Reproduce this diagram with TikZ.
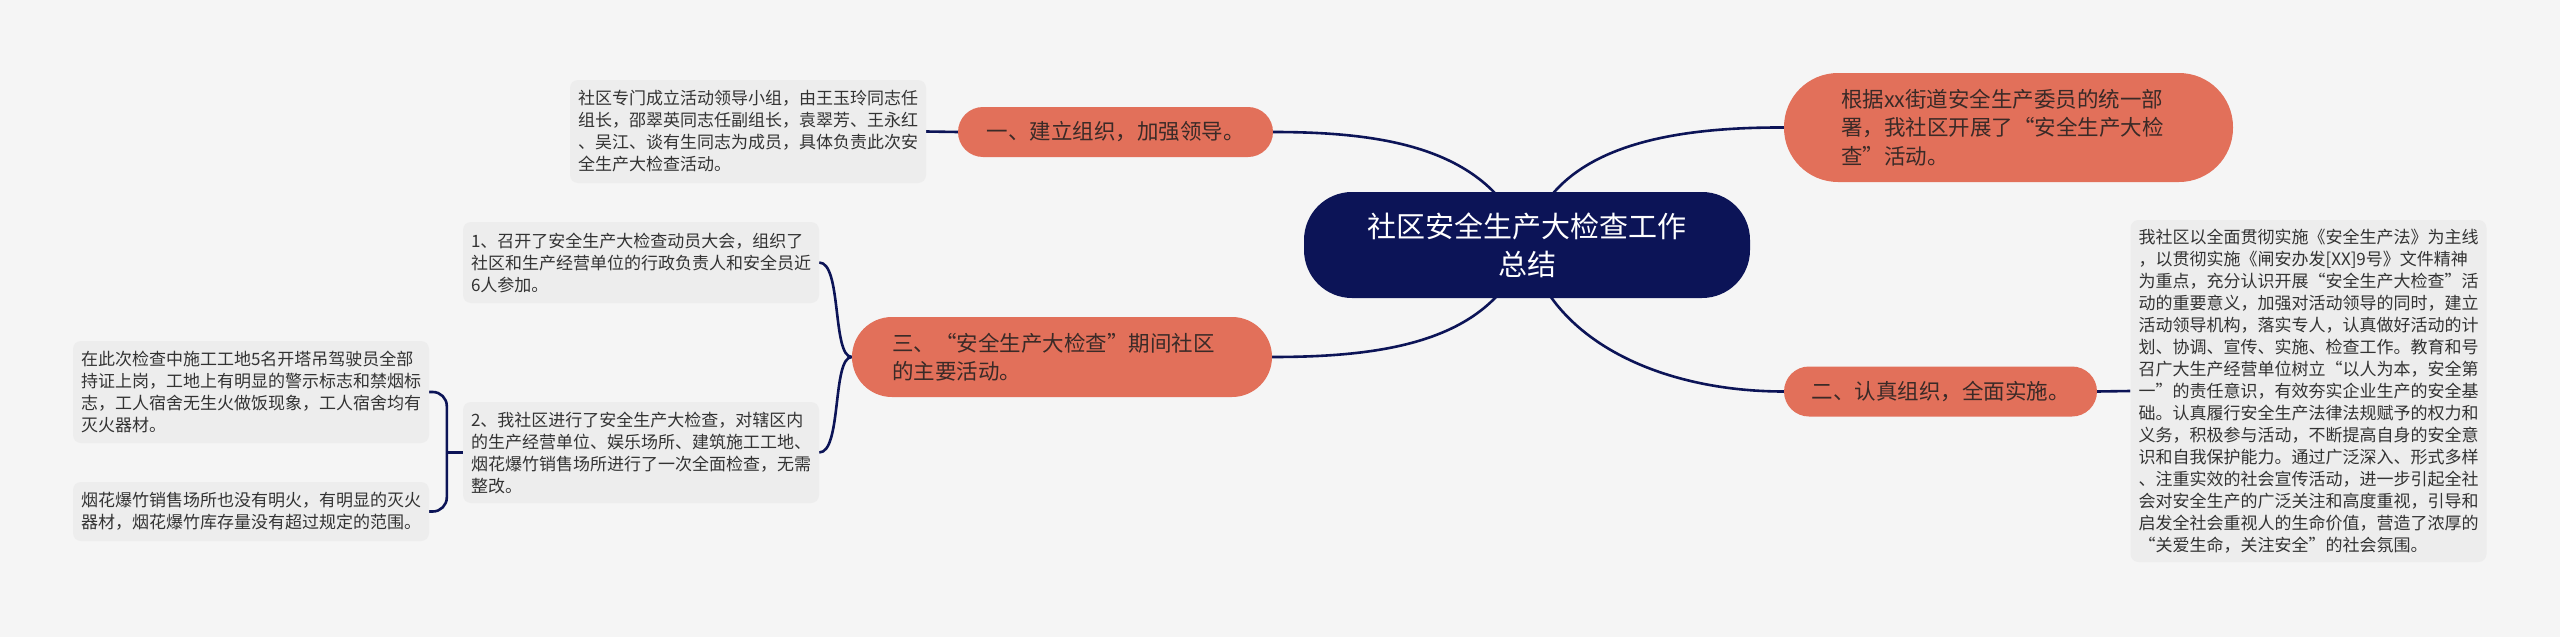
\documentclass[tikz,border=0pt]{standalone}
\usepackage{fontspec}
\setmainfont{Noto Sans CJK SC}
\usetikzlibrary{backgrounds}
\definecolor{bg}{HTML}{F5F5F5}
\definecolor{navy}{HTML}{0C1457}
\definecolor{salmon}{HTML}{E2705A}
\definecolor{boxgray}{HTML}{EDEDED}
\definecolor{salmontext}{HTML}{3A2A27}
\definecolor{graytext}{HTML}{333333}
\begin{document}
\begin{tikzpicture}[x=1pt,y=-1pt,
  conn/.style={draw=navy,line width=2.6pt},
  rootbox/.style={fill=navy,text=white,rounded corners=48pt,font=\fontsize{29}{38}\selectfont,align=center,minimum width=446pt,minimum height=106pt,inner sep=0pt},
  pill/.style={fill=salmon,text=salmontext,font=\fontsize{21.5}{28.5}\selectfont,inner sep=0pt,align=left},
  note/.style={fill=boxgray,text=graytext,rounded corners=8pt,font=\fontsize{17}{22}\selectfont,align=left,inner ysep=0pt,inner xsep=8pt,text width=340pt,minimum width=356pt}
]
\useasboundingbox (0,0) rectangle (2560,637);

\node[rootbox] (root) at (1527,245) {社区安全生产大检查工作\\总结};

\node[pill,rounded corners=25pt,minimum width=315pt,minimum height=50pt] (n1) at (1115.5,132) {一、建立组织，加强领导。};
\node[pill,rounded corners=54pt,minimum width=449pt,minimum height=109pt,text width=335pt] (n2) at (2008.5,127.5) {根据xx街道安全生产委员的统一部\\署，我社区开展了“安全生产大检\\查”活动。};
\node[pill,rounded corners=25pt,minimum width=313pt,minimum height=50pt] (n3) at (1940.5,391.5) {二、认真组织，全面实施。};
\node[pill,rounded corners=40pt,minimum width=420pt,minimum height=80pt,text width=340pt] (n5) at (1062,357) {三、“安全生产大检查”期间社区\\的主要活动。};

\node[note,minimum height=342pt] (n4) at (2308.5,391) {我社区以全面贯彻实施《安全生产法》为主线\\，以贯彻实施《闸安办发[XX]9号》文件精神\\为重点，充分认识开展“安全生产大检查”活\\动的重要意义，加强对活动领导的同时，建立\\活动领导机构，落实专人，认真做好活动的计\\划、协调、宣传、实施、检查工作。教育和号\\召广大生产经营单位树立“以人为本，安全第\\一”的责任意识，有效夯实企业生产的安全基\\础。认真履行安全生产法律法规赋予的权力和\\义务，积极参与活动，不断提高自身的安全意\\识和自我保护能力。通过广泛深入、形式多样\\、注重实效的社会宣传活动，进一步引起全社\\会对安全生产的广泛关注和高度重视，引导和\\启发全社会重视人的生命价值，营造了浓厚的\\“关爱生命，关注安全”的社会氛围。};

\node[note,minimum height=103pt] (n10) at (748,131.5) {社区专门成立活动领导小组，由王玉玲同志任\\组长，邵翠英同志任副组长，袁翠芳、王永红\\、吴江、谈有生同志为成员，具体负责此次安\\全生产大检查活动。};

\node[note,minimum height=81pt] (n6) at (641,262.5) {1、召开了安全生产大检查动员大会，组织了\\社区和生产经营单位的行政负责人和安全员近\\6人参加。};
\node[note,minimum height=101pt] (n7) at (641,452.5) {2、我社区进行了安全生产大检查，对辖区内\\的生产经营单位、娱乐场所、建筑施工工地、\\烟花爆竹销售场所进行了一次全面检查，无需\\整改。};

\node[note,minimum height=102pt] (n8) at (251,392) {在此次检查中施工工地5名开塔吊驾驶员全部\\持证上岗，工地上有明显的警示标志和禁烟标\\志，工人宿舍无生火做饭现象，工人宿舍均有\\灭火器材。};
\node[note,minimum height=59pt] (n9) at (251,511.5) {烟花爆竹销售场所也没有明火，有明显的灭火\\器材，烟花爆竹库存量没有超过规定的范围。};

\begin{scope}[on background layer]
\fill[bg] (0,0) rectangle (2560,637);
\draw[conn] (root.center) .. controls (1492,150) and (1390,132) .. (n1.east);
\draw[conn] (root.center) .. controls (1550,150) and (1660,127) .. (n2.west);
\draw[conn] (root.center) .. controls (1550,340) and (1660,391.5) .. (n3.west);
\draw[conn] (root.center) .. controls (1495,340) and (1390,357) .. (n5.east);
\draw[conn] (n1.west) -- (n10.east);
\draw[conn] (n3.east) -- (n4.west);
\draw[conn] (n5.west) .. controls (832,357) and (842,262.5) .. (n6.east);
\draw[conn] (n5.west) .. controls (832,357) and (842,452.5) .. (n7.east);
\draw[conn] (n7.west) -- ++(-16,0) coordinate (j);
\draw[conn,rounded corners=14pt] (n8.east) -| (j) |- (n9.east);
\end{scope}
\end{tikzpicture}
\end{document}
